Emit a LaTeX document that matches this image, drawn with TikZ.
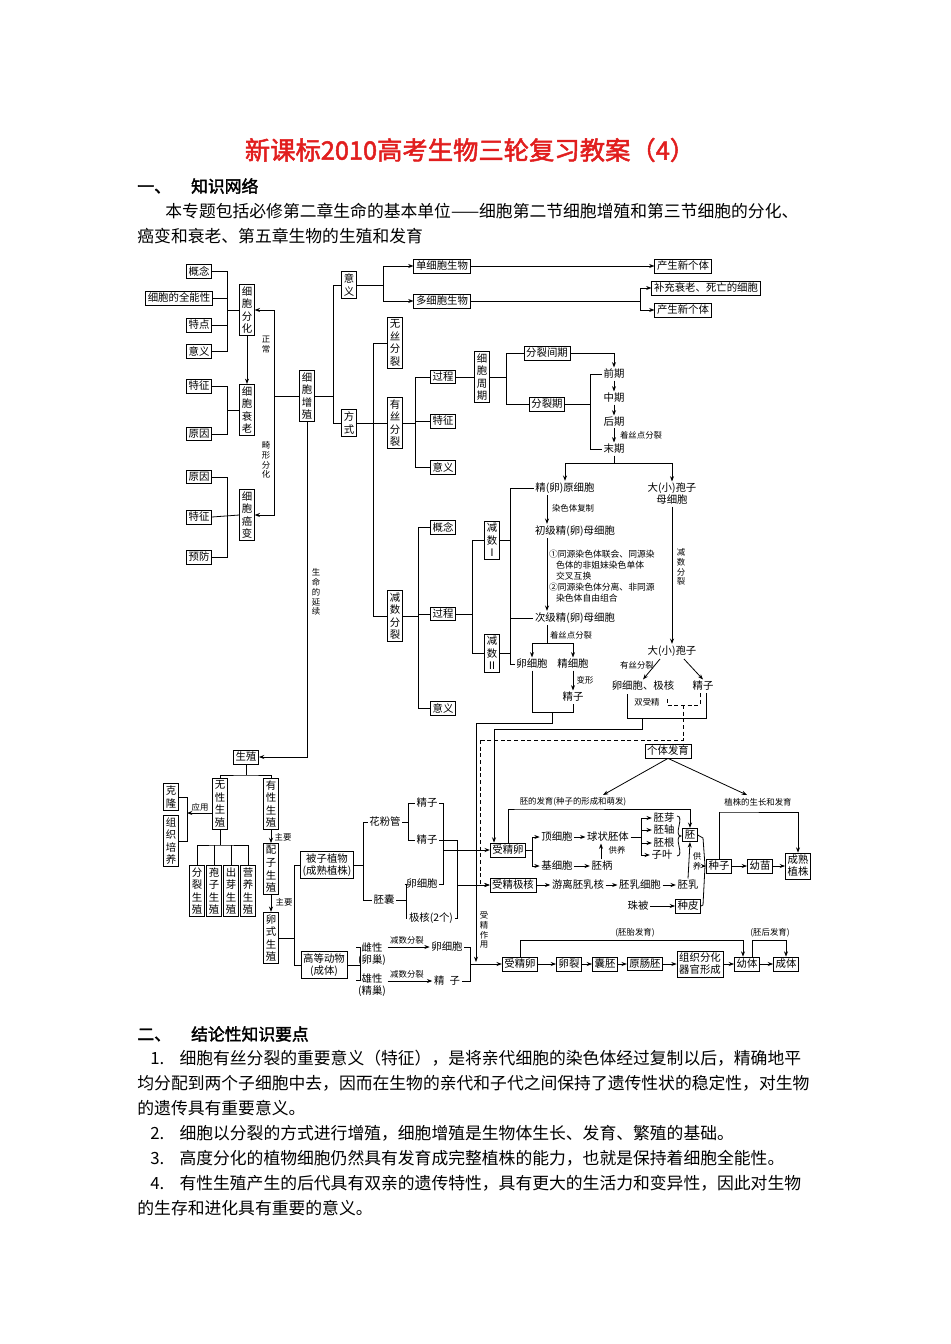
\documentclass[tikz,border=0pt]{standalone}
\usepackage{fontspec}
\setmainfont[AutoFakeBold=2]{Noto Sans CJK SC}
\usetikzlibrary{arrows.meta}
\begin{document}
\begin{tikzpicture}[x=0.75pt,y=-0.75pt,line width=0.6pt,
 b/.style={draw,inner sep=1.6pt,font=\fontsize{7.8}{9}\selectfont},
 v/.style={draw,inner xsep=1.5pt,inner ysep=1.6pt,align=center,font=\fontsize{7.8}{9.4}\selectfont},
 t/.style={inner sep=1pt,font=\fontsize{7.8}{9}\selectfont},
 l/.style={inner sep=0.5pt,font=\fontsize{6.3}{7.4}\selectfont},
 ar/.style={-{Stealth[length=4pt,width=3pt]}},
 body/.style={anchor=west,inner sep=0pt,font=\fontsize{12.6}{14}\selectfont}]
\useasboundingbox (0,0) rectangle (950,1344);
\coordinate (c494) at (494,0);
\coordinate (c601) at (601,0);
\coordinate (c706) at (706,0);
\coordinate (c700) at (700,0);
\coordinate (c743) at (743,0);
\coordinate (c752) at (752,0);
\coordinate (y813) at (0,813);
\coordinate (y947) at (0,947);
\coordinate (y980) at (0,980);
% title and text
\node[text={rgb,255:red,225;green,30;blue,30},font=\fontsize{19}{22}\selectfont\bfseries] (title) at (470,150) {新课标2010高考生物三轮复习教案（4）};
\node[body,font=\fontsize{12.6}{14}\selectfont\bfseries] (h1) at (137,186) {一、\hspace{1.2em}知识网络};
\node[body] (p1) at (165,211) {本专题包括必修第二章生命的基本单位——细胞第二节细胞增殖和第三节细胞的分化、};
\node[body] (p2) at (137,236) {癌变和衰老、第五章生物的生殖和发育};
\node[body,font=\fontsize{12.6}{14}\selectfont\bfseries] (h2) at (137,1034) {二、\hspace{1.2em}结论性知识要点};
\node[body] (a1) at (150,1058) {1.\hspace{0.9em}细胞有丝分裂的重要意义（特征），是将亲代细胞的染色体经过复制以后，精确地平};
\node[body] (a2) at (137,1083) {均分配到两个子细胞中去，因而在生物的亲代和子代之间保持了遗传性状的稳定性，对生物};
\node[body] (a3) at (137,1108) {的遗传具有重要意义。};
\node[body] (a4) at (150,1133) {2.\hspace{0.9em}细胞以分裂的方式进行增殖，细胞增殖是生物体生长、发育、繁殖的基础。};
\node[body] (a5) at (150,1158) {3.\hspace{0.9em}高度分化的植物细胞仍然具有发育成完整植株的能力，也就是保持着细胞全能性。};
\node[body] (a6) at (150,1183) {4.\hspace{0.9em}有性生殖产生的后代具有双亲的遗传特性，具有更大的生活力和变异性，因此对生物};
\node[body] (a7) at (137,1208) {的生存和进化具有重要的意义。};
% ---------- left column
\coordinate (x1) at (227,0);
\node[b] (gn) at (199,271) {概念};
\node[b] (qn) at (179,298) {细胞的全能性};
\node[b] (td) at (199,325) {特点};
\node[b] (yy1) at (199,351) {意义};
\node[v] (fh) at (247,310) {细\\胞\\分\\化};
\draw (gn.east) -- (gn.east -| x1) -- (yy1.east -| x1) -- (yy1.east);
\draw (qn.east) -- (qn.east -| x1); \draw (td.east) -- (td.east -| x1);
\draw (x1 |- fh.west) -- (fh.west);
\node[b] (tz1) at (199,386) {特征};
\node[b] (yn1) at (199,434) {原因};
\node[v] (sl) at (247,410) {细\\胞\\衰\\老};
\draw (tz1.east) -- (tz1.east -| x1) -- (yn1.east -| x1) -- (yn1.east);
\draw (x1 |- sl.west) -- (sl.west);
\node[b] (yn2) at (199,477) {原因};
\node[b] (tz2) at (199,517) {特征};
\node[b] (yf) at (199,557) {预防};
\node[v] (ab) at (247,515) {细\\胞\\癌\\变};
\draw (yn2.east) -- (yn2.east -| x1) -- (yf.east -| x1) -- (yf.east);
\draw (tz2.east) -- (ab.west);
\draw[ar] (fh.south) -- (sl.north);
\node[v] (zz) at (307,396) {细\\胞\\增\\殖};
\coordinate (x2) at (274,0);
\draw (zz.west) -- (x2 |- zz.west);
\draw[ar] (x2 |- zz.west) |- (fh.east);
\draw[ar] (x2 |- zz.west) |- (ab.east);
\node[l,align=center] (zc) at (266,345) {正\\常};
\node[l,align=center] (jx) at (266,460) {畸\\形\\分\\化};
% ---------- 意义 / 方式
\coordinate (x3) at (333,0);
\node[v] (yi) at (349,285) {意\\义};
\node[v] (fs) at (349,423) {方\\式};
\draw (zz.east) -- (zz.east -| x3);
\draw (yi.west) -- (yi.west -| x3) -- (fs.west -| x3) -- (fs.west);
\coordinate (x4) at (383,0);
\node[b] (dx) at (442,266) {单细胞生物};
\node[b] (duo) at (442,301) {多细胞生物};
\draw (yi.east) -- (yi.east -| x4);
\draw[ar] (x4 |- yi.east) |- (dx.west);
\draw[ar] (x4 |- yi.east) |- (duo.west);
\node[b] (xg1) at (683,266) {产生新个体};
\draw[ar] (dx.east) -- (xg1.west);
\coordinate (x5) at (640,0);
\node[b] (bc) at (706,288) {补充衰老、死亡的细胞};
\node[b] (xg2) at (683,310) {产生新个体};
\draw (duo.east) -- (duo.east -| x5);
\draw[ar] (x5 |- duo.east) |- (bc.west);
\draw[ar] (x5 |- duo.east) |- (xg2.west);
% ---------- 方式 branches
\coordinate (x6) at (373,0);
\node[v] (ws) at (395,343) {无\\丝\\分\\裂};
\node[v] (ys) at (395,423) {有\\丝\\分\\裂};
\node[v] (js) at (395,616) {减\\数\\分\\裂};
\draw (ws.west) -- (ws.west -| x6) -- (js.west -| x6) -- (js.west);
\draw (fs.east) -- (ys.west);
\coordinate (x7) at (415,0);
\node[b] (gc) at (443,377) {过程};
\node[b] (tz3) at (443,421) {特征};
\node[b] (yy2) at (443,467) {意义};
\draw (ys.east) -- (ys.east -| x7);
\draw (gc.west) -- (gc.west -| x7) -- (yy2.west -| x7) -- (yy2.west);
\draw (tz3.west) -- (tz3.west -| x7);
\node[v] (zq) at (482,377) {细\\胞\\周\\期};
\draw (gc.east) -- (zq.west);
\coordinate (x8) at (506,0);
\node[b] (jq) at (547,353) {分裂间期};
\node[b] (lq) at (547,404) {分裂期};
\draw (zq.east) -- (zq.east -| x8);
\draw (jq.west) -- (jq.west -| x8) -- (lq.west -| x8) -- (lq.west);
\node[t] (qq) at (614,374) {前期};
\node[t] (zhq) at (614,398) {中期};
\node[t] (hq) at (614,422) {后期};
\node[t] (mq) at (614,449) {末期};
\draw[ar] (jq.east) -| (qq.north);
\draw[ar] (qq) -- (zhq); \draw[ar] (zhq) -- (hq); \draw[ar] (hq) -- (mq);
\node[l,anchor=west] (zsd) at (619,435) {着丝点分裂};
\coordinate (x9) at (590,0);
\draw (lq.east) -- (lq.east -| x9);
\draw (qq.west) -- (qq.west -| x9) -- (mq.west -| x9) -- (mq.west);
\coordinate (m1) at (614,463);
\draw (mq.south) -- (m1);
% ---------- meiosis
\node[t] (yxb) at (565,488) {精(卵)原细胞};
\node[t,align=center] (bzm) at (672,494) {大(小)孢子\\母细胞};
\draw[ar] (m1) -| (yxb.north);
\draw[ar] (m1) -| (bzm.north);
\coordinate (x10) at (418,0);
\node[b] (gn2) at (443,527) {概念};
\node[b] (gc2) at (443,614) {过程};
\node[b] (yy3) at (443,708) {意义};
\draw (js.east) -- (js.east -| x10);
\draw (gn2.west) -- (gn2.west -| x10) -- (yy3.west -| x10) -- (yy3.west);
\draw (gc2.west) -- (gc2.west -| x10);
\coordinate (x11) at (472,0);
\node[v] (j1) at (492,540) {减\\数\\Ⅰ};
\node[v] (j2) at (492,653) {减\\数\\Ⅱ};
\draw (gc2.east) -- (gc2.east -| x11);
\draw (j1.west) -- (j1.west -| x11) -- (j2.west -| x11) -- (j2.west);
\coordinate (x12) at (510,0);
\coordinate (ax) at (547,0);
\node[t] (cjm) at (575,531) {初级精(卵)母细胞};
\node[t] (cjx) at (575,618) {次级精(卵)母细胞};
\node[t] (lxb) at (532,664) {卵细胞};
\node[t] (jxb) at (573,664) {精细胞};
\node[t] (jz) at (573,697) {精子};
\draw (yxb.west) -- (yxb.west -| x12) -- (lxb.west -| x12) -- (lxb.west);
\draw (cjx.west) -- (cjx.west -| x12);
\draw (j1.east) -- (j1.east -| x12); \draw (j2.east) -- (j2.east -| x12);
\draw[ar] (yxb.south -| ax) -- (cjm.north -| ax);
\node[l,anchor=west] (rsf) at (551,508) {染色体复制};
\draw[ar] (cjm.south -| ax) -- (cjx.north -| ax);
\node[l,anchor=west,align=left,font=\fontsize{6.6}{8.2}\selectfont] (txt) at (548,576) {①同源染色体联会、同源染\\\hspace{0.8em}色体的非姐妹染色单体\\\hspace{0.8em}交叉互换\\②同源染色体分离、非同源\\\hspace{0.8em}染色体自由组合};
\node[l,anchor=west] (zsd2) at (549,635) {着丝点分裂};
\coordinate (s1) at (547,643);
\draw (cjx.south -| ax) -- (s1);
\draw[ar] (s1) -| (lxb.north);
\draw[ar] (s1) -| (jxb.north);
\draw[ar] (jxb) -- (jz);
\node[l] (bx) at (585,680) {变形};
\node[t] (dx2) at (672,651) {大(小)孢子};
\draw[ar] (bzm.south) -- (dx2.north);
\node[l,align=center] (jsfl) at (681,567) {减\\数\\分\\裂};
\node[t] (lj) at (643,686) {卵细胞、极核};
\node[t] (jz2) at (703,686) {精子};
\draw[ar] (660,659) -- (lj.north);
\draw[ar] (684,659) -- (jz2.north);
\node[l] (ysfl) at (637,665) {有丝分裂};
\node[l] (ssj) at (647,702) {双受精};
% lines to development
\coordinate (yb1) at (0,712);
\draw (lxb.south) -- (lxb.south |- yb1) -- (jz.south |- yb1) -- (jz.south);
\draw (552,712) -- (552,723) -- (476,723);
\draw (627,694) -- (627,718) -- (706,718) -- (jz2.south -| c706);
\draw[densely dashed] (667,699) -- (667,705) -- (700,705) -- (jz2.south -| c700);
\draw (642,718) -- (642,729) -- (494,729);
\draw[densely dashed] (683,705) -- (683,740) -- (480,740);
% ---------- reproduction
\node[b] (sz) at (246,757) {生殖};
\draw[ar] (zz.south) |- (sz.east);
\node[l,align=center] (smyx) at (316,592) {生\\命\\的\\延\\续};
\node[v] (wx) at (220,804) {无\\性\\生\\殖};
\node[v] (yx) at (271,804) {有\\性\\生\\殖};
\coordinate (y1) at (0,775);
\draw (sz.south) -- (sz.south |- y1);
\draw (wx.north) |- (sz.south |- y1) -| (yx.north);
\node[v] (kl) at (171,797) {克\\隆};
\node[v] (zp) at (171,841) {组\\织\\培\\养};
\coordinate (x13) at (187,0);
\draw (kl.east) -- (kl.east -| x13) -- (zp.east -| x13) -- (zp.east);
\draw[ar] (wx.west |- y813) -- (x13 |- y813);
\node[l] (yyy) at (200,807) {应用};
\node[v] (fl) at (197,891) {分\\裂\\生\\殖};
\node[v] (bz) at (214,891) {孢\\子\\生\\殖};
\node[v] (cy) at (231,891) {出\\芽\\生\\殖};
\node[v] (yyz) at (248,891) {营\\养\\生\\殖};
\coordinate (y2) at (0,845);
\draw (wx.south) -- (wx.south |- y2);
\draw (fl.north) |- (wx.south |- y2) -| (yyz.north);
\draw (bz.north) -- (bz.north |- y2); \draw (cy.north) -- (cy.north |- y2);
\node[v] (pz) at (271,869) {配\\子\\生\\殖};
\node[v] (ls) at (271,938) {卵\\式\\生\\殖};
\draw[ar] (yx) -- (pz); \draw[ar] (pz) -- (ls);
\node[l] (zy1) at (283,837) {主要};
\node[l] (zy2) at (284,902) {主要};
\coordinate (x14) at (294,0);
\node[b,align=center] (bzzw) at (327,865) {被子植物\\(成熟植株)};
\node[b,align=center] (gddw) at (324,965) {高等动物\\(成体)};
\draw (ls.east) -- (ls.east -| x14);
\draw (bzzw.west) -- (bzzw.west -| x14) -- (gddw.west -| x14) -- (gddw.west);
\coordinate (x15) at (363,0);
\node[t] (hfg) at (385,822) {花粉管};
\node[t] (pn) at (384,900) {胚囊};
\draw (bzzw.east) -- (bzzw.east -| x15);
\draw (hfg.west) -- (hfg.west -| x15) -- (pn.west -| x15) -- (pn.west);
\coordinate (x16) at (408,0);
\node[t] (jz3) at (427,803) {精子};
\node[t] (jz4) at (427,840) {精子};
\draw (hfg.east) -- (hfg.east -| x16);
\draw (jz3.west) -- (jz3.west -| x16) -- (jz4.west -| x16) -- (jz4.west);
\coordinate (x17) at (406,0);
\node[t] (lxb2) at (422,884) {卵细胞};
\node[t] (jh) at (431,918) {极核(2个)};
\draw (pn.east) -- (pn.east -| x17);
\draw (lxb2.west) -- (lxb2.west -| x17) -- (jh.west -| x17) -- (jh.west);
\coordinate (x18) at (443,0);
\coordinate (x19) at (457,0);
\draw (jz3.east) -- (jz3.east -| x18) -- (lxb2.east -| x18) -- (lxb2.east);
\draw (jz4.east) -- (jz4.east -| x19) -- (jh.east -| x19) -- (jh.east);
\coordinate (x20) at (360,0);
\node[t,align=center] (cx) at (372,954) {雌性\\(卵巢)};
\node[t,align=center] (xx) at (372,985) {雄性\\(精巢)};
\draw (gddw.east) -- (gddw.east -| x20);
\draw (cx.west |- y947) -- (x20 |- y947) -- (x20 |- y980) -- (xx.west |- y980);
\node[t] (lxb3) at (447,947) {卵细胞};
\node[t] (jz5) at (447,981) {精\hspace{0.5em}子};
\draw[ar] (cx.east |- lxb3) -- (lxb3.west);
\draw[ar] (xx.east |- jz5) -- (jz5.west);
\node[l] (jf1) at (407,940) {减数分裂};
\node[l] (jf2) at (407,974) {减数分裂};
\coordinate (x21) at (470,0);
\draw (lxb3.east) -- (lxb3.east -| x21) -- (jz5.east -| x21) -- (jz5.east);
\node[l,align=center] (szzy) at (484,930) {受\\精\\作\\用};
% ---------- development
\node[b] (gtfy) at (668,751) {个体发育};
\node[l] (pfy) at (573,802) {胚的发育(种子的形成和萌发)};
\node[l] (zzfy) at (758,802) {植株的生长和发育};
\draw[ar] (gtfy.south) -- (603,795);
\draw[ar] (gtfy.south) -- (747,795);
\node[b] (sjl) at (508,850) {受精卵};
\node[b] (sjjh) at (513,885) {受精极核};
\draw[ar] (494,729) -- (c494 |- sjl.north);
\draw[densely dashed,ar] (480,740) |- (sjjh.west);
\draw[ar] (x18 |- sjl.west) -- (sjl.west);
\draw[ar] (x19 |- sjjh.west) -- (sjjh.west);
\coordinate (x22) at (532,0);
\node[t] (dxb) at (557,837) {顶细胞};
\node[t] (jxb2) at (557,866) {基细胞};
\draw (sjl.east) -- (sjl.east -| x22);
\draw[ar] (x22 |- sjl.east) |- (dxb.west);
\draw[ar] (x22 |- sjl.east) |- (jxb2.west);
\node[t] (qzpt) at (608,837) {球状胚体};
\node[t] (pb) at (602,866) {胚柄};
\draw[ar] (dxb) -- (qzpt); \draw[ar] (jxb2) -- (pb);
\draw[ar] (pb.north -| c601) -- (qzpt.south -| c601);
\node[l] (gy1) at (617,850) {供养};
\coordinate (x23) at (641,0);
\node[t] (py) at (664,818) {胚芽};
\node[t] (pz2) at (664,830) {胚轴};
\node[t] (pg) at (664,843) {胚根};
\node[t] (zy) at (662,855) {子叶};
\draw (qzpt.east) -- (qzpt.east -| x23);
\foreach \n in {py,pz2,pg,zy} \draw[ar] (x23 |- qzpt.east) |- (\n.west);
\node[b] (pei) at (690,835) {胚};
\draw (677,816) to[out=0,in=180] (681,836) to[out=180,in=0] (677,856);
\draw[ar] (sjl.north) |- (520,809) -| (pei.north);
\node[t] (yrh) at (578,885) {游离胚乳核};
\node[t] (prxb) at (640,885) {胚乳细胞};
\node[t] (pr) at (688,885) {胚乳};
\draw[ar] (sjjh) -- (yrh); \draw[ar] (yrh) -- (prxb); \draw[ar] (prxb) -- (pr);
\draw[ar] (pr.north) -- (pei.south);
\node[l,align=center] (gy2) at (697,861) {供\\养};
\node[t] (zb) at (638,906) {珠被};
\node[b] (zp2) at (688,906) {种皮};
\draw[ar] (zb) -- (zp2);
\draw (pei.east) -- (703,838) -- (705,866) -- (703,905) -- (zp2.east);
\node[b] (zzi) at (719,866) {种子};
\node[b] (ym) at (760,866) {幼苗};
\node[b,align=center] (cszz) at (798,866) {成熟\\植株};
\draw[ar] (705,866) -- (zzi.west);
\draw[ar] (zzi) -- (ym); \draw[ar] (ym) -- (cszz);
\draw[ar] (zzi.north) |- (720,812) -| (cszz.north);
% animal
\node[b] (sjl2) at (520,964) {受精卵};
\node[b] (lie) at (569,964) {卵裂};
\node[b] (np) at (605,964) {囊胚};
\node[b] (ycp) at (645,964) {原肠胚};
\node[b,align=center] (zzfh) at (700,964) {组织分化\\器官形成};
\node[b] (yt) at (747,964) {幼体};
\node[b] (ct) at (786,964) {成体};
\draw[ar] (x21 |- sjl2.west) -- (sjl2.west);
\draw[ar] (476,723) -- (476,962);
\draw[ar] (sjl2) -- (lie); \draw[ar] (lie) -- (np); \draw[ar] (np) -- (ycp);
\draw[ar] (ycp) -- (zzfh); \draw[ar] (zzfh) -- (yt); \draw[ar] (yt) -- (ct);
\draw[ar] (sjl2.north) |- (520,940) -| (yt.north -| c743);
\draw[ar] (yt.north -| c752) |- (752,940) -| (ct.north);
\node[l] (pt) at (635,933) {(胚胎发育)};
\node[l] (ph) at (770,933) {(胚后发育)};
\end{tikzpicture}
\end{document}
